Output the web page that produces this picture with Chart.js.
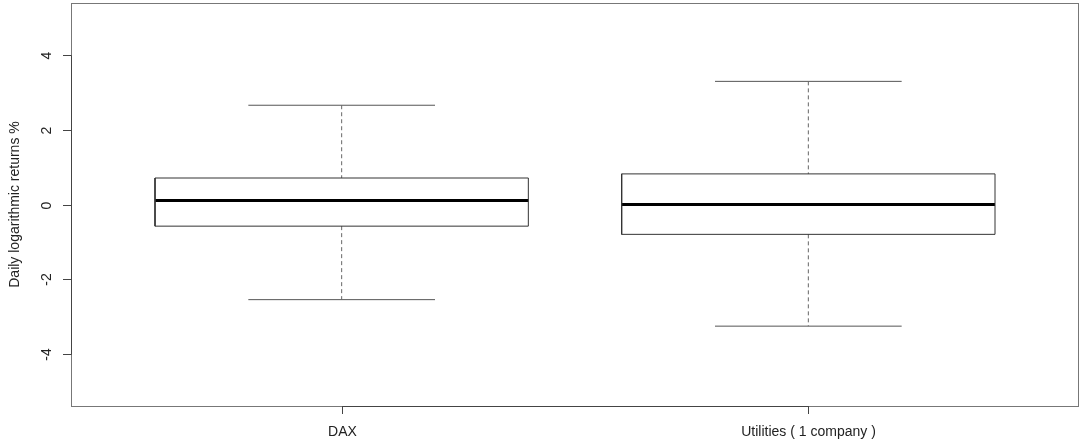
<!DOCTYPE html>
<html>
<head>
    <title>Daily logarithmic returns</title>
    <script src="https://cdn.jsdelivr.net/npm/chart.js@4.4.0/dist/chart.umd.min.js"></script>
    <style>
        body { margin: 0; background: #fff; }
        canvas { display: block; }
    </style>
</head>
<body>
    <canvas id="grafico" width="1080" height="443"></canvas>
    <script>
        var categorias = ['DAX', 'Utilities ( 1 company )'];
        var bigodeInf = [-2.55, -3.26];
        var quartil1 = [-0.58, -0.80];
        var mediana = [0.11, 0.00];
        var quartil3 = [0.71, 0.82];
        var bigodeSup = [2.66, 3.30];
        var ticksY = [-4, -2, 0, 2, 4];

        var meiaCaixa = 0.4;
        var meiaHaste = 0.2;

        var datasets = [];
        for (var i = 0; i < categorias.length; i++) {
            var x = i + 1;
            datasets.push({
                data: [
                    { x: x - meiaCaixa, y: quartil1[i] }, { x: x + meiaCaixa, y: quartil1[i] },
                    { x: x + meiaCaixa, y: quartil3[i] }, { x: x - meiaCaixa, y: quartil3[i] },
                    { x: x - meiaCaixa, y: quartil1[i] }
                ],
                borderColor: '#333', borderWidth: 1
            });
            datasets.push({
                data: [{ x: x - meiaCaixa, y: mediana[i] }, { x: x + meiaCaixa, y: mediana[i] }],
                borderColor: '#000', borderWidth: 3
            });
            datasets.push({
                data: [{ x: x, y: bigodeSup[i] }, { x: x, y: quartil3[i] }],
                borderColor: '#666', borderWidth: 1, borderDash: [4, 3]
            });
            datasets.push({
                data: [{ x: x, y: quartil1[i] }, { x: x, y: bigodeInf[i] }],
                borderColor: '#666', borderWidth: 1, borderDash: [4, 3]
            });
            datasets.push({
                data: [{ x: x - meiaHaste, y: bigodeSup[i] }, { x: x + meiaHaste, y: bigodeSup[i] }],
                borderColor: '#555', borderWidth: 1
            });
            datasets.push({
                data: [{ x: x - meiaHaste, y: bigodeInf[i] }, { x: x + meiaHaste, y: bigodeInf[i] }],
                borderColor: '#555', borderWidth: 1
            });
        }
        datasets.forEach(function (d) {
            d.showLine = true;
            d.pointRadius = 0;
            d.fill = false;
            d.tension = 0;
        });

        var eixos = {
            id: 'eixos',
            afterDraw: function (chart) {
                var c = chart.ctx;
                var a = chart.chartArea;
                var sx = chart.scales.x;
                var sy = chart.scales.y;
                c.save();
                // moldura
                c.strokeStyle = '#777';
                c.lineWidth = 1;
                c.strokeRect(a.left + 0.5, a.top + 0.5, a.right - a.left - 1, a.bottom - a.top);

                c.strokeStyle = '#444';
                c.fillStyle = '#222';
                c.font = '14px "Liberation Sans", Arial, sans-serif';

                // eixo y
                var y0 = Math.round(sy.getPixelForValue(ticksY[0])) + 0.5;
                var y1 = Math.round(sy.getPixelForValue(ticksY[ticksY.length - 1])) + 0.5;
                c.beginPath();
                c.moveTo(a.left + 0.5, y0);
                c.lineTo(a.left + 0.5, y1);
                c.stroke();
                ticksY.forEach(function (v) {
                    var py = Math.round(sy.getPixelForValue(v)) + 0.5;
                    c.beginPath();
                    c.moveTo(a.left - 8, py);
                    c.lineTo(a.left + 0.5, py);
                    c.stroke();
                    c.save();
                    c.translate(a.left - 24, py);
                    c.rotate(-Math.PI / 2);
                    c.textAlign = 'center';
                    c.textBaseline = 'middle';
                    c.fillText(String(v), 0, 0);
                    c.restore();
                });

                // eixo x
                var xa = Math.round(sx.getPixelForValue(1)) + 0.5;
                var xb = Math.round(sx.getPixelForValue(categorias.length)) + 0.5;
                c.beginPath();
                c.moveTo(xa, a.bottom + 0.5);
                c.lineTo(xb, a.bottom + 0.5);
                c.stroke();
                categorias.forEach(function (nome, i) {
                    var px = Math.round(sx.getPixelForValue(i + 1)) + 0.5;
                    c.beginPath();
                    c.moveTo(px, a.bottom);
                    c.lineTo(px, a.bottom + 8);
                    c.stroke();
                    c.textAlign = 'center';
                    c.textBaseline = 'middle';
                    c.fillText(nome, px, a.bottom + 26);
                });

                // titulo y
                c.save();
                c.translate(15, (a.top + a.bottom) / 2);
                c.rotate(-Math.PI / 2);
                c.textAlign = 'center';
                c.textBaseline = 'middle';
                c.fillText('Daily logarithmic returns %', 0, 0);
                c.restore();
                c.restore();
            }
        };

        var ctx = document.getElementById('grafico').getContext('2d');
        var grafico = new Chart(ctx, {
            type: 'scatter',
            data: { datasets: datasets },
            options: {
                responsive: false,
                animation: false,
                layout: { padding: { left: 71, top: 3, right: 1, bottom: 37 } },
                plugins: {
                    legend: { display: false },
                    tooltip: { enabled: false }
                },
                scales: {
                    x: { type: 'linear', min: 0.42, max: 2.58, display: false },
                    y: { type: 'linear', min: -5.4, max: 5.4, display: false }
                }
            },
            plugins: [eixos]
        });
    </script>
</body>
</html>
